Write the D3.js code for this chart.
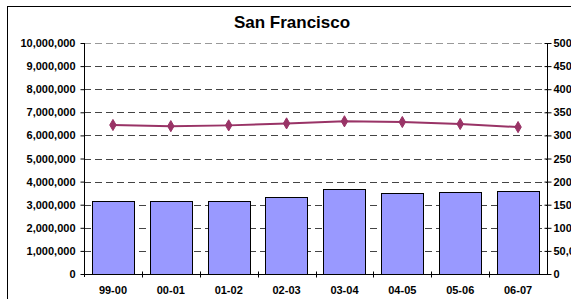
<!DOCTYPE html>
<html>
<head>
<meta charset="utf-8">
<script src="https://cdn.jsdelivr.net/npm/d3@7"></script>
<style>
  html, body { margin: 0; padding: 0; background: #fff; }
  svg { display: block; }
  text { font-family: "Liberation Sans", Arial, sans-serif; font-weight: bold; fill: #000; }
</style>
</head>
<body>
<svg id="chart" width="571" height="299"></svg>
<script>
const title = "San Francisco";
const categories = ["99-00", "00-01", "01-02", "02-03", "03-04", "04-05", "05-06", "06-07"];
const barValues = [3170000, 3170000, 3150000, 3320000, 3670000, 3520000, 3560000, 3580000];
const lineValues = [322500, 320000, 321700, 326000, 330500, 329000, 324700, 318000];
const leftTicks = [0, 1000000, 2000000, 3000000, 4000000, 5000000, 6000000, 7000000, 8000000, 9000000, 10000000];
const rightTicks = [0, 50000, 100000, 150000, 200000, 250000, 300000, 350000, 400000, 450000, 500000];

const svg = d3.select("#chart");
const L = 84, R = 547, T = 43, B = 274;
const fmt = d3.format(",");

// outer frame
svg.append("rect").attr("x", 7.5).attr("y", 6.5).attr("width", 600).attr("height", 400)
  .attr("fill", "#fff").attr("stroke", "#000").attr("stroke-width", 1);

svg.append("text").attr("x", 292).attr("y", 28).attr("text-anchor", "middle")
  .style("font-size", "17px").text(title);

const x = d3.scaleBand().domain(categories).range([L, R]).paddingInner(0.27).paddingOuter(0.135);
const yL = d3.scaleLinear().domain([0, 10000000]).range([B, T]);
const yR = d3.scaleLinear().domain([0, 500000]).range([B, T]);

// gridlines
svg.append("g").selectAll("line").data(leftTicks.filter(d => d > 0)).join("line")
  .attr("x1", L).attr("x2", R)
  .attr("y1", d => Math.round(yL(d)) + 0.5).attr("y2", d => Math.round(yL(d)) + 0.5)
  .attr("stroke", d => d === 10000000 ? "#999" : "#444")
  .attr("stroke-width", 1).attr("stroke-dasharray", "7,4");

// bars
svg.append("g").selectAll("rect").data(categories).join("rect")
  .attr("x", d => Math.round(x(d)) + 0.5)
  .attr("y", (d, i) => Math.round(yL(barValues[i])) + 0.5)
  .attr("width", Math.round(x.bandwidth()))
  .attr("height", (d, i) => Math.round(B - yL(barValues[i])))
  .attr("fill", "#9999FF").attr("stroke", "#000").attr("stroke-width", 1);

// left axis
const gl = svg.append("g").attr("transform", `translate(${L + 0.5},0)`)
  .call(d3.axisLeft(yL).tickValues(leftTicks).tickFormat(fmt).tickSize(4).tickPadding(5));
gl.select(".domain").attr("d", `M0,${T}V${B + 3}`);
gl.selectAll("text").style("font-size", "11px").style("font-family", "Liberation Sans, Arial, sans-serif").style("font-weight", "bold");

// right axis
const gr = svg.append("g").attr("transform", `translate(${R + 0.5},0)`)
  .call(d3.axisRight(yR).tickValues(rightTicks).tickFormat(fmt).tickSize(4).tickPadding(2));
gr.select(".domain").attr("d", `M0,${T}V${B}`);
gr.selectAll(".tick line").attr("x1", -3);
gr.selectAll("text").style("font-size", "11px").style("font-family", "Liberation Sans, Arial, sans-serif").style("font-weight", "bold");

// bottom axis
const gb = svg.append("g").attr("transform", `translate(0,${B + 0.5})`)
  .call(d3.axisBottom(x).tickSize(0).tickPadding(12));
gb.select(".domain").attr("d", `M${L},0H${R}`);
gb.selectAll("text").style("font-size", "11px").style("font-family", "Liberation Sans, Arial, sans-serif").style("font-weight", "bold");
const step = x.step();
const bounds = d3.range(1, categories.length).map(i => L + step * i);
gb.append("g").selectAll("line").data(bounds).join("line")
  .attr("x1", d => Math.round(d) + 0.5).attr("x2", d => Math.round(d) + 0.5)
  .attr("y1", -3).attr("y2", 3).attr("stroke", "#000");

// line series
const cx = d => x(d) + x.bandwidth() / 2;
const line = d3.line().x((d, i) => cx(categories[i])).y(d => yR(d));
svg.append("path").datum(lineValues).attr("d", line)
  .attr("fill", "none").attr("stroke", "#993366").attr("stroke-width", 2);
svg.append("g").selectAll("path").data(lineValues).join("path")
  .attr("transform", (d, i) => `translate(${cx(categories[i])},${yR(d)})`)
  .attr("d", d3.symbol(d3.symbolDiamond, 36))
  .attr("fill", "#993366").attr("stroke", "#993366");
</script>
</body>
</html>
